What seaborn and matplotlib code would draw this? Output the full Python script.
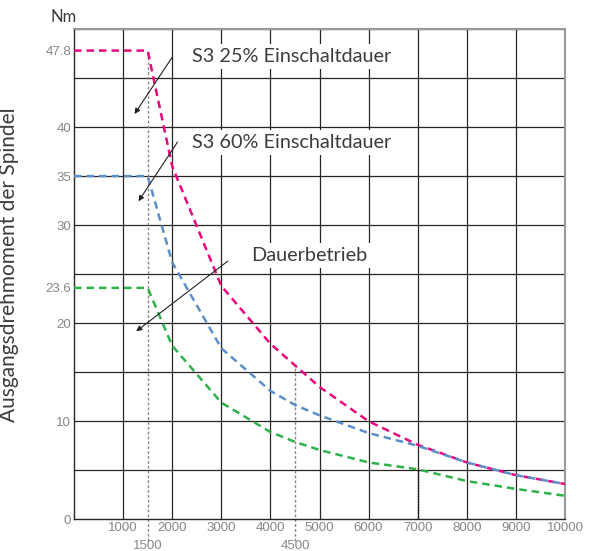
import matplotlib
matplotlib.use("Agg")
import matplotlib.pyplot as plt
import matplotlib.transforms as mtransforms
import seaborn as sns
import pandas as pd
import numpy as np

# ---- data ----
rpm = [0, 1500, 2000, 3000, 4000, 4500, 5000, 6000, 7000, 8000, 9000, 10000]
s3_25 = [47.8, 47.8, 36.0, 23.8, 17.9, 15.7, 13.5, 10.0, 7.6, 5.8, 4.5, 3.6]
s3_60 = [35.0, 35.0, 26.2, 17.45, 13.1, 11.66, 10.6, 8.8, 7.5, 5.8, 4.5, 3.6]
dauer = [23.6, 23.6, 17.7, 11.9, 8.9, 7.9, 7.07, 5.8, 5.1, 3.9, 3.1, 2.4]
series_names = ["S3 25% Einschaltdauer", "S3 60% Einschaltdauer", "Dauerbetrieb"]
series_colors = ["#E5097F", "#5B8FC9", "#2DB24A"]

x_ticks = [0, 1000, 2000, 3000, 4000, 5000, 6000, 7000, 8000, 9000, 10000]
x_ticklabels = ["", "1000", "2000", "3000", "4000", "5000", "6000", "7000", "8000", "9000", "10000"]
x_extra = [1500, 4500]
y_ticks = [0, 10, 20, 23.6, 30, 35, 40, 47.8]
y_ticklabels = ["0", "10", "20", "23.6", "30", "35", "40", "47.8"]
y_grid = [5, 10, 15, 20, 25, 30, 35, 40, 45, 50]

ylabel = "Ausgangsdrehmoment der Spindel"
unit = "Nm"

df = pd.DataFrame({
    "rpm": rpm * 3,
    "torque": s3_25 + s3_60 + dauer,
    "series": [series_names[0]] * len(rpm) + [series_names[1]] * len(rpm) + [series_names[2]] * len(rpm),
})

sns.set_theme(style="white")
plt.rcParams["font.family"] = ["Lato", "DejaVu Sans"]

fig = plt.figure(figsize=(5.89, 5.51), dpi=100)
ax = fig.add_axes([74 / 589, 1 - 519.3 / 551, (565 - 74) / 589, (519.3 - 29) / 551])

tick_color = "#8a8580"
text_color = "#3c3c3c"
grid_color = "#2a2525"

# grid
for gx in x_ticks[1:]:
    ax.axvline(gx, color=grid_color, lw=0.9, zorder=1)
for gy in y_grid:
    ax.axhline(gy, color=grid_color, lw=0.9, zorder=1)

# dotted reference lines
ax.plot([1500, 1500], [-2.2, 47.8], color="#888888", lw=1.0, ls=(0, (2, 1.5)), clip_on=False, zorder=2)
ax.plot([4500, 4500], [-2.2, s3_25[5]], color="#888888", lw=1.0, ls=(0, (2, 1.5)), clip_on=False, zorder=2)
ax.plot([7000, 7000], [0, dauer[8]], color="#111111", lw=1.0, ls=(0, (1, 1)), zorder=2)

sns.lineplot(data=df, x="rpm", y="torque", hue="series", palette=series_colors,
             hue_order=series_names, ax=ax, legend=False, lw=1.8, zorder=3)
for ln in ax.get_lines()[-3:]:
    ln.set_linestyle((0, (3, 2)))

ax.set_xlim(0, 10000)
ax.set_ylim(0, 50)
ax.set_xticks(x_ticks)
ax.set_xticklabels(x_ticklabels)
ax.set_yticks(y_ticks)
ax.set_yticklabels(y_ticklabels)
ax.tick_params(axis="both", length=0, labelsize=9.5, colors=tick_color, pad=2)
for lab in ax.get_xticklabels() + ax.get_yticklabels():
    lab.set_family(["Liberation Sans", "DejaVu Sans"])
ax.set_xlabel("")
ax.set_ylabel(ylabel, fontsize=15, color=text_color)
ax.yaxis.set_label_coords(-0.112, 0.52)

trans = mtransforms.blended_transform_factory(ax.transData, ax.transAxes)
for xe in x_extra:
    ax.text(xe, -0.055, str(xe), transform=trans, ha="center", va="center",
            fontsize=9.5, color=tick_color, family=["Liberation Sans", "DejaVu Sans"])

for sp in ["left", "bottom"]:
    ax.spines[sp].set_color(grid_color)
    ax.spines[sp].set_linewidth(1.0)
for sp in ["top", "right"]:
    ax.spines[sp].set_color("#9a9a9a")
    ax.spines[sp].set_linewidth(1.5)

fig.text(50 / 589, 1 - 17 / 551, unit, fontsize=12, color=text_color, ha="left", va="center")

# annotations
box = dict(facecolor="white", edgecolor="none", pad=3)
ax.text(2400, 47.2, series_names[0], fontsize=14.3, color=text_color, va="center", ha="left", bbox=box, zorder=4)
ax.text(2400, 38.4, series_names[1], fontsize=14.3, color=text_color, va="center", ha="left", bbox=box, zorder=4)
ax.text(3600, 26.9, series_names[2], fontsize=14.3, color=text_color, va="center", ha="left", bbox=box, zorder=4)

arrows = [((2037, 47.4), (1202, 41.1)), ((2138, 38.7), (1283, 32.2)), ((3177, 26.5), (1222, 19.0))]
for start, end in arrows:
    ax.annotate("", xy=end, xytext=start,
                arrowprops=dict(arrowstyle="-|>", color="#222222", lw=0.8, mutation_scale=8),
                zorder=5)

fig.savefig("out.png", dpi=100)
